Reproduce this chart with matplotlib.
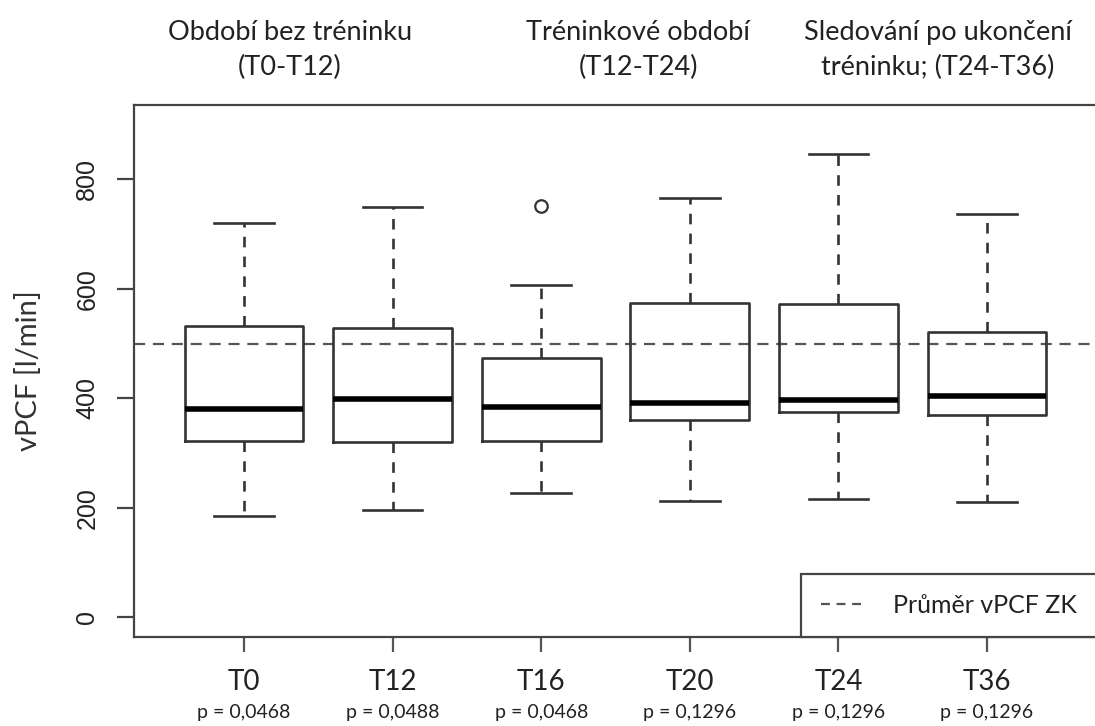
import matplotlib
matplotlib.use("Agg")
import matplotlib.pyplot as plt
from matplotlib.lines import Line2D

# ---- data ----
categories = ["T0", "T12", "T16", "T20", "T24", "T36"]
p_values = ["p = 0,0468", "p = 0,0488", "p = 0,0468", "p = 0,1296", "p = 0,1296", "p = 0,1296"]
whisker_low = [185, 196, 228, 212, 217, 211]
q1 = [323, 320, 322, 360, 375, 369]
median = [381, 398, 384, 392, 397, 405]
q3 = [532, 529, 474, 574, 573, 521]
whisker_high = [720, 749, 607, 766, 847, 737]
outliers = [[], [], [752], [], [], []]
reference_mean = 500
legend_label = "Průměr vPCF ZK"
headers = ["Období bez tréninku\n(T0-T12)", "Tréninkové období\n(T12-T24)",
           "Sledování po ukončení\ntréninku; (T24-T36)"]
header_x = [290, 638, 938]  # figure pixel centers
y_ticks = [0, 200, 400, 600, 800]

W, H = 1095, 726
fig = plt.figure(figsize=(W / 100, H / 100), dpi=100)
ax = fig.add_axes([134 / W, 1 - 637 / H, (1097 - 134) / W, (637 - 105) / H])

stats = []
for i, c in enumerate(categories):
    stats.append(dict(label=c, whislo=whisker_low[i], q1=q1[i], med=median[i],
                      q3=q3[i], whishi=whisker_high[i], fliers=outliers[i]))

line_col = "#333333"
ax.bxp(stats, positions=range(1, len(categories) + 1), widths=0.8,
       boxprops=dict(color=line_col, linewidth=1.9),
       medianprops=dict(color="black", linewidth=4),
       whiskerprops=dict(color=line_col, linewidth=1.9, linestyle=(0, (4, 3.5))),
       capprops=dict(color=line_col, linewidth=1.9),
       capwidths=0.4,
       flierprops=dict(marker="o", markerfacecolor="none", markeredgecolor=line_col,
                       markersize=9, markeredgewidth=1.6))

ax.axhline(reference_mean, color="#555555", linewidth=1.6, linestyle=(0, (5, 3.5)), zorder=0)

ax.set_xlim(0.26, 6.74)
ax.set_ylim(-36, 936)

for s in ax.spines.values():
    s.set_color("#444444")
    s.set_linewidth(1.6)

ax.set_yticks(y_ticks)
ax.set_yticklabels([str(v) for v in y_ticks], rotation=90, va="center",
                   family="Liberation Sans", fontsize=18, color="#222222")
ax.tick_params(axis="y", length=12, width=1.6, color="#444444", pad=13)

ax.set_xticks(range(1, len(categories) + 1))
ax.set_xticklabels(categories, family="Lato", fontsize=20, color="#222222")
ax.tick_params(axis="x", length=11, width=1.6, color="#555555", pad=12)
for i, p in enumerate(p_values):
    ax.text(i + 1, -0.141, p, transform=ax.get_xaxis_transform(), ha="center",
            va="center", family="Lato", fontsize=14, color="#222222")

ax.set_ylabel("vPCF [l/min]", family="Lato", fontsize=21, color="#333333", labelpad=24)

for hx, ht in zip(header_x, headers):
    fig.text(hx / W, 1 - 50 / H, ht, ha="center", va="center", family="Lato",
             fontsize=19.5, color="#222222", linespacing=1.45)

handle = Line2D([], [], color="#555555", linestyle=(0, (4, 3)), linewidth=1.6)
leg = ax.legend([handle], [legend_label], loc="lower right", borderaxespad=0,
                fancybox=False, prop=dict(family="Lato", size=18), handlelength=1.8,
                borderpad=0.8, handletextpad=1.1, framealpha=1)
leg.get_frame().set_edgecolor("#444444")
leg.get_frame().set_linewidth(1.6)
for t in leg.get_texts():
    t.set_color("#222222")

fig.savefig("out.png", dpi=100)
